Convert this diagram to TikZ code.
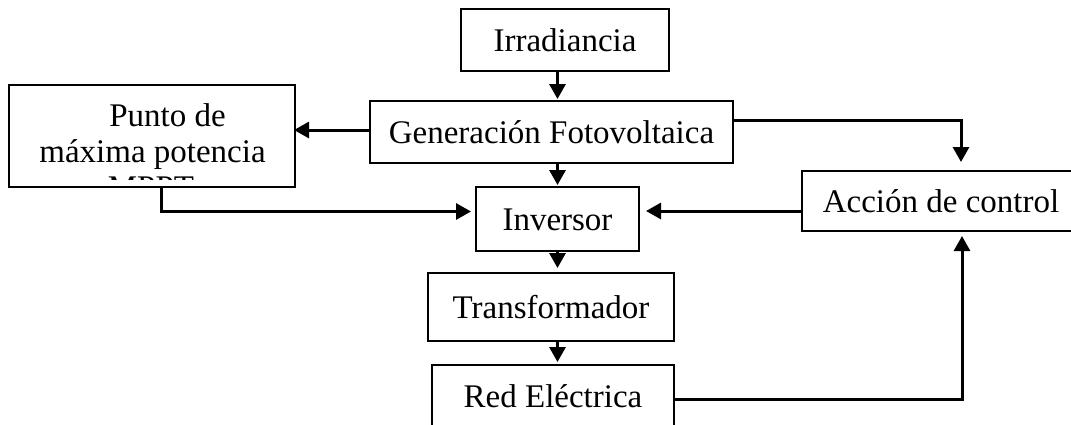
\documentclass[tikz,border=0pt]{standalone}
\usepackage{fontspec}
\setmainfont{Liberation Serif}
\usetikzlibrary{arrows.meta,calc}

\tikzset{
  box/.style={draw, line width=2pt, inner sep=0pt, text height=22pt, text depth=0pt,
    font=\fontsize{33}{38}\selectfont},
  txt/.style={inner sep=0pt, font=\fontsize{33}{38}\selectfont},
  arr/.style={line width=3pt, -{Triangle[width=16pt,length=15pt]}}
}

\begin{document}
\begin{tikzpicture}[x=1pt,y=-1pt]
  \useasboundingbox (0,0) rectangle (1071,424);
  \clip (0,0) rectangle (1071,424);

  % blocks
  \node[box, minimum width=208pt, minimum height=62pt] (irr)   at (565,40)    {Irradiancia};
  \node[box, minimum width=363pt, minimum height=62pt] (gen)   at (551.5,132) {Generación Fotovoltaica};
  \node[box, minimum width=163pt, minimum height=64pt] (inv)   at (557.5,219) {Inversor};
  \node[box, minimum width=246pt, minimum height=68pt] (trans) at (551,307)   {Transformador};
  \node[box, minimum width=242pt, minimum height=62pt] (red)   at (553,396)   {Red Eléctrica};
  \node[box, minimum width=278pt, minimum height=60pt] (acc)   at (941,201)   {Acción de control};
  \node[draw, line width=2pt, minimum width=286pt, minimum height=102pt, inner sep=0pt] (pmp) at (152,136) {};

  % text of the MPPT block (third line overflows and is cut by the box margin)
  \node[txt, anchor=base] (pmpA) at (167.5,126) {Punto de};
  \node[txt, anchor=base] (pmpB) at (152.5,162) {máxima potencia};
  \begin{scope}
    \clip (pmp.north west) rectangle (295,179);
    \node[txt, anchor=base] (pmpC) at (151,198.5) {MPPT};
  \end{scope}

  % connector end points on the block sides
  \coordinate (genW) at ([yshift=2pt]gen.west);
  \coordinate (genE) at ([yshift=12pt]gen.east);
  \coordinate (accW) at ([yshift=-10pt]acc.west);
  \coordinate (accN) at ([xshift=20pt]acc.north);
  \coordinate (accS) at ([xshift=21pt]acc.south);
  \coordinate (invW) at ([yshift=7.5pt]inv.west);
  \coordinate (pmpS) at ([xshift=9pt]pmp.south);
  \coordinate (redE) at ([yshift=-3pt]red.east);

  % main chain
  \draw[arr, shorten >=1pt] (irr.south -| inv.north) -- (gen.north -| inv.north);
  \draw[arr, shorten >=1pt] (gen.south -| inv.north) -- (inv.north);
  \draw[arr, shorten >=4pt] (inv.south) -- (trans.north -| inv.south);
  \draw[arr, shorten >=2pt] (trans.south -| inv.south) -- (red.north -| inv.south);

  % side branches
  \draw[arr, shorten >=-2pt] (genW) -- (pmp.east |- genW);
  \draw[arr, shorten >=8pt] (genE) -| (accN);
  \draw[arr, shorten >=6pt] (accW) -- (inv.east |- accW);
  \draw[arr, shorten >=4pt] (pmpS) |- (invW);
  \draw[arr, shorten >=4pt] (redE) -| (accS);
\end{tikzpicture}
\end{document}
